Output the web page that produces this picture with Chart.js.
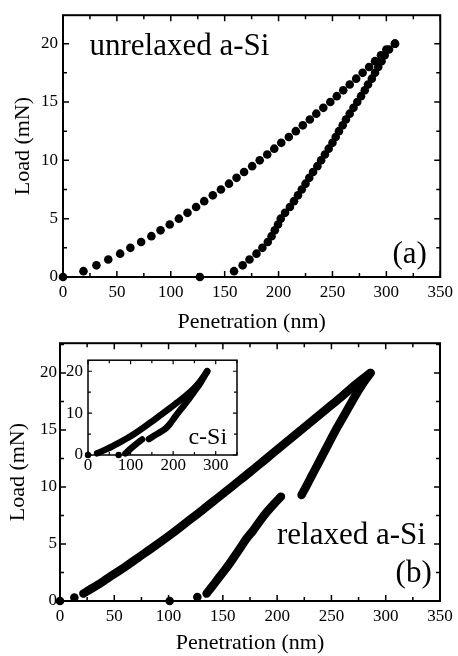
<!DOCTYPE html>
<html><head><meta charset="utf-8">
<script src="https://cdn.jsdelivr.net/npm/chart.js@4.4.1/dist/chart.umd.min.js"></script>
<style>
html,body{margin:0;padding:0;background:#fff;}
body{width:458px;height:656px;position:relative;overflow:hidden;}
.box{position:absolute;}
</style></head><body>
<div class="box" style="left:0;top:0;width:458px;height:340px"><canvas id="chartA"></canvas></div>
<div class="box" style="left:0;top:330px;width:458px;height:326px"><canvas id="chartB"></canvas></div>
<div class="box" style="left:50px;top:345px;width:200px;height:140px"><canvas id="chartI"></canvas></div>
<script>
// ---------- Panel (a): unrelaxed a-Si ----------
const aLoadPen  = [0,19,31,42,53,62.5,72.5,82,90.5,99,107.5,115.5,123.5,131,139,146.5,154,161,168,175.5,182.5,189.5,196,202.5,209.5,216,222.5,229,235,241.5,248,254,260,266,272,278,284,289.5,295,300,308];
const aLoadLoad = [0,0.5,1,1.5,2,2.5,3,3.5,4,4.5,5,5.5,6,6.5,7,7.5,8,8.5,9,9.5,10,10.5,11,11.5,12,12.5,13,13.5,14,14.5,15,15.5,16,16.5,17,17.5,18,18.5,19,19.5,20];
const aUnloadPen  = [158.7,166.7,173,179.5,185,190,193.5,196.5,199.5,202,206,210.5,214.3,218,221.5,225,228.5,232,236,239.5,243,246.5,250,253,256,259.5,262.5,266,269.5,273,276.5,280,283,286.5,289.5,292.5,295.5,298.5,302.5,308];
const aUnloadLoad = [0.5,1,1.5,2,2.5,3,3.5,4,4.5,5,5.5,6,6.5,7,7.5,8,8.5,9,9.5,10,10.5,11,11.5,12,12.5,13,13.5,14,14.5,15,15.5,16,16.5,17,17.5,18,18.5,19,19.5,20];
const aExtraPen = [127];
const aExtraLoad = [0];

// ---------- Panel (b): relaxed a-Si ----------
const bDotPen  = [0,13.2,101,126.5];
const bDotLoad = [0,0.31,0,0.35];
const bLoadPen  = [21.5,27.5,34,40,46,57,72,87,101.5,116.5,131.5,146,160.5,175,189,203,217,231,245,259,272.5,286];
const bLoadLoad = [0.65,1.0,1.36,1.73,2.13,2.8,3.8,4.8,5.8,6.9,8.0,9.1,10.2,11.3,12.4,13.5,14.6,15.7,16.8,17.9,19.0,20];
const bUnloadLowPen  = [135,139.5,146,152.5,158.5,165,172,178,184,190.5,197,203.5];
const bUnloadLowLoad = [0.65,1.2,2.0,2.8,3.6,4.5,5.5,6.2,7.0,7.8,8.5,9.15];
const bUnloadHighPen  = [222.5,226.5,232,237.5,243,248.5,254,260,266,272,278.5,286];
const bUnloadHighLoad = [9.3,10,11,12,13,14,15,16,17,18,19,20];

// ---------- Inset: c-Si ----------
const iDotPen  = [0,72];
const iDotLoad = [0,0];
const iLoadPen  = [21.5,37,53,72,92,111,131,150,170,190,209,229,248,264,280];
const iLoadLoad = [0.4,1.1,1.85,2.9,4.0,5.2,6.6,8.0,9.5,11.0,12.5,14.1,15.8,17.7,20];
const iUnloadHighPen  = [143,155,170,183,193,205,218,233,248,264,280];
const iUnloadHighLoad = [3.8,4.6,5.5,6.4,7.5,9.2,10.9,12.8,14.9,17.2,20];
const iUnloadLowPen  = [88,100,114,127];
const iUnloadLowLoad = [0.4,1.5,2.7,3.7];

const xTitle = 'Penetration (nm)';
const yTitle = 'Load (mN)';

const pts = (xs, ys) => xs.map((v, i) => ({x: v, y: ys[i]}));

Chart.defaults.font.family = "'Liberation Serif', 'Times New Roman', serif";
Chart.defaults.font.size = 17;
Chart.defaults.color = '#000';
Chart.defaults.animation = false;

const frameTicks = {
  id: 'frameTicks',
  afterDraw(chart, args, o) {
    const {ctx, chartArea: a, scales: {x, y}} = chart;
    ctx.save();
    ctx.strokeStyle = '#000';
    ctx.lineWidth = o.tick;
    const isMajor = (v, m) => Math.abs(v / m - Math.round(v / m)) < 1e-6;
    ctx.beginPath();
    for (let v = x.min; v <= x.max + 1e-6; v += o.xMinor) {
      const p = x.getPixelForValue(v);
      const L = isMajor(v, o.xMajor) ? o.major : o.minor;
      ctx.moveTo(p, a.bottom); ctx.lineTo(p, a.bottom - L);
      ctx.moveTo(p, a.top); ctx.lineTo(p, a.top + L);
    }
    for (let v = y.min; v <= y.max + 1e-6; v += o.yMinor) {
      const p = y.getPixelForValue(v);
      const L = isMajor(v, o.yMajor) ? o.major : o.minor;
      ctx.moveTo(a.left, p); ctx.lineTo(a.left + L, p);
      ctx.moveTo(a.right, p); ctx.lineTo(a.right - L, p);
    }
    ctx.stroke();
    ctx.lineWidth = o.frame;
    ctx.strokeRect(a.left, a.top, a.right - a.left, a.bottom - a.top);
    ctx.restore();
  }
};

const textLabels = {
  id: 'textLabels',
  afterDraw(chart, args, o) {
    const {ctx, scales: {x, y}} = chart;
    ctx.save();
    ctx.fillStyle = '#000';
    ctx.textBaseline = 'alphabetic';
    (o.items || []).forEach(it => {
      ctx.font = it.font;
      ctx.textAlign = it.align;
      ctx.fillText(it.text, x.getPixelForValue(it.x), y.getPixelForValue(it.y));
    });
    ctx.restore();
  }
};

function dots(xs, ys, r) {
  return {data: pts(xs, ys), showLine: false, pointRadius: r, pointHoverRadius: r,
          pointBackgroundColor: '#000', pointBorderColor: '#000', pointBorderWidth: 0, clip: false};
}
function band(xs, ys, w) {
  return {data: pts(xs, ys), showLine: true, borderColor: '#000', borderWidth: w,
          borderCapStyle: 'round', borderJoinStyle: 'round', cubicInterpolationMode: 'monotone',
          pointRadius: 0, pointHoverRadius: 0, clip: false};
}

function scales(o) {
  return {
    x: {type: 'linear', min: 0, max: 350,
        grid: {display: false, drawTicks: false}, border: {display: false},
        ticks: {stepSize: o.xStep, includeBounds: false, padding: o.xPad, maxRotation: 0, autoSkip: false},
        title: o.xTitle ? {display: true, text: xTitle, font: {size: 22}, padding: {top: 0, bottom: o.xTitlePad}} : {display: false},
        afterFit: s => { s.height = o.xH; }},
    y: {type: 'linear', min: 0, max: o.yMax,
        grid: {display: false, drawTicks: false}, border: {display: false},
        ticks: {stepSize: o.yStep, includeBounds: false, padding: o.yPad, autoSkip: false},
        title: o.yTitle ? {display: true, text: yTitle, font: {size: 22}, padding: {top: o.yTitlePad, bottom: 0}} : {display: false},
        afterFit: s => { s.width = o.yW; }}
  };
}

const commonPlugins = {legend: {display: false}, tooltip: {enabled: false}};

new Chart(document.getElementById('chartA'), {
  type: 'scatter',
  data: {datasets: [
    dots(aLoadPen, aLoadLoad, 4.3),
    dots(aUnloadPen, aUnloadLoad, 4.3),
    dots(aExtraPen, aExtraLoad, 4.3)
  ]},
  options: {
    responsive: true, maintainAspectRatio: false, devicePixelRatio: 1,
    layout: {padding: {left: 0, right: 15, top: 13, bottom: 0}},
    scales: scales({xStep: 50, yStep: 5, yMax: 22.44, xPad: 5, yPad: 5, xH: 63, yW: 63,
                    xTitle: true, yTitle: true, xTitlePad: 5, yTitlePad: 10}),
    plugins: Object.assign({}, commonPlugins, {
      frameTicks: {xMinor: 25, xMajor: 50, yMinor: 2.5, yMajor: 5, major: 6, minor: 4, frame: 2, tick: 1.5},
      textLabels: {items: [
        {text: 'unrelaxed a-Si', x: 24.6, y: 19.0, font: "31px 'Liberation Serif'", align: 'left'},
        {text: '(a)', x: 337.6, y: 1.17, font: "31px 'Liberation Serif'", align: 'right'}
      ]}
    })
  },
  plugins: [frameTicks, textLabels]
});

new Chart(document.getElementById('chartB'), {
  type: 'scatter',
  data: {datasets: [
    dots(bDotPen, bDotLoad, 4.3),
    band(bLoadPen, bLoadLoad, 8.5),
    band(bUnloadLowPen, bUnloadLowLoad, 8.5),
    band(bUnloadHighPen, bUnloadHighLoad, 8.5)
  ]},
  options: {
    responsive: true, maintainAspectRatio: false, devicePixelRatio: 1,
    layout: {padding: {left: 0, right: 18, top: 5, bottom: 0}},
    scales: scales({xStep: 50, yStep: 5, yMax: 22.61, xPad: 5, yPad: 3, xH: 55, yW: 60,
                    xTitle: true, yTitle: true, xTitlePad: 0, yTitlePad: 5}),
    plugins: Object.assign({}, commonPlugins, {
      frameTicks: {xMinor: 25, xMajor: 50, yMinor: 2.5, yMajor: 5, major: 6, minor: 4, frame: 2, tick: 1.5},
      textLabels: {items: [
        {text: 'relaxed a-Si', x: 199.9, y: 5.04, font: "31px 'Liberation Serif'", align: 'left'},
        {text: '(b)', x: 342.4, y: 1.64, font: "31px 'Liberation Serif'", align: 'right'}
      ]}
    })
  },
  plugins: [frameTicks, textLabels]
});

new Chart(document.getElementById('chartI'), {
  type: 'scatter',
  data: {datasets: [
    dots(iDotPen, iDotLoad, 3.2),
    band(iLoadPen, iLoadLoad, 6.5),
    band(iUnloadHighPen, iUnloadHighLoad, 6.5),
    band(iUnloadLowPen, iUnloadLowLoad, 6.5)
  ]},
  options: {
    responsive: true, maintainAspectRatio: false, devicePixelRatio: 1,
    layout: {padding: {left: 0, right: 13, top: 7, bottom: 0}},
    scales: scales({xStep: 100, yStep: 10, yMax: 22.64, xPad: 0, yPad: 5, xH: 30, yW: 38,
                    xTitle: false, yTitle: false}),
    plugins: Object.assign({}, commonPlugins, {
      frameTicks: {xMinor: 50, xMajor: 100, yMinor: 5, yMajor: 10, major: 4, minor: 3, frame: 1.5, tick: 1.2},
      textLabels: {items: [
        {text: 'c-Si', x: 236, y: 2.57, font: "24px 'Liberation Serif'", align: 'left'}
      ]}
    })
  },
  plugins: [frameTicks, textLabels]
});
</script>
</body></html>
